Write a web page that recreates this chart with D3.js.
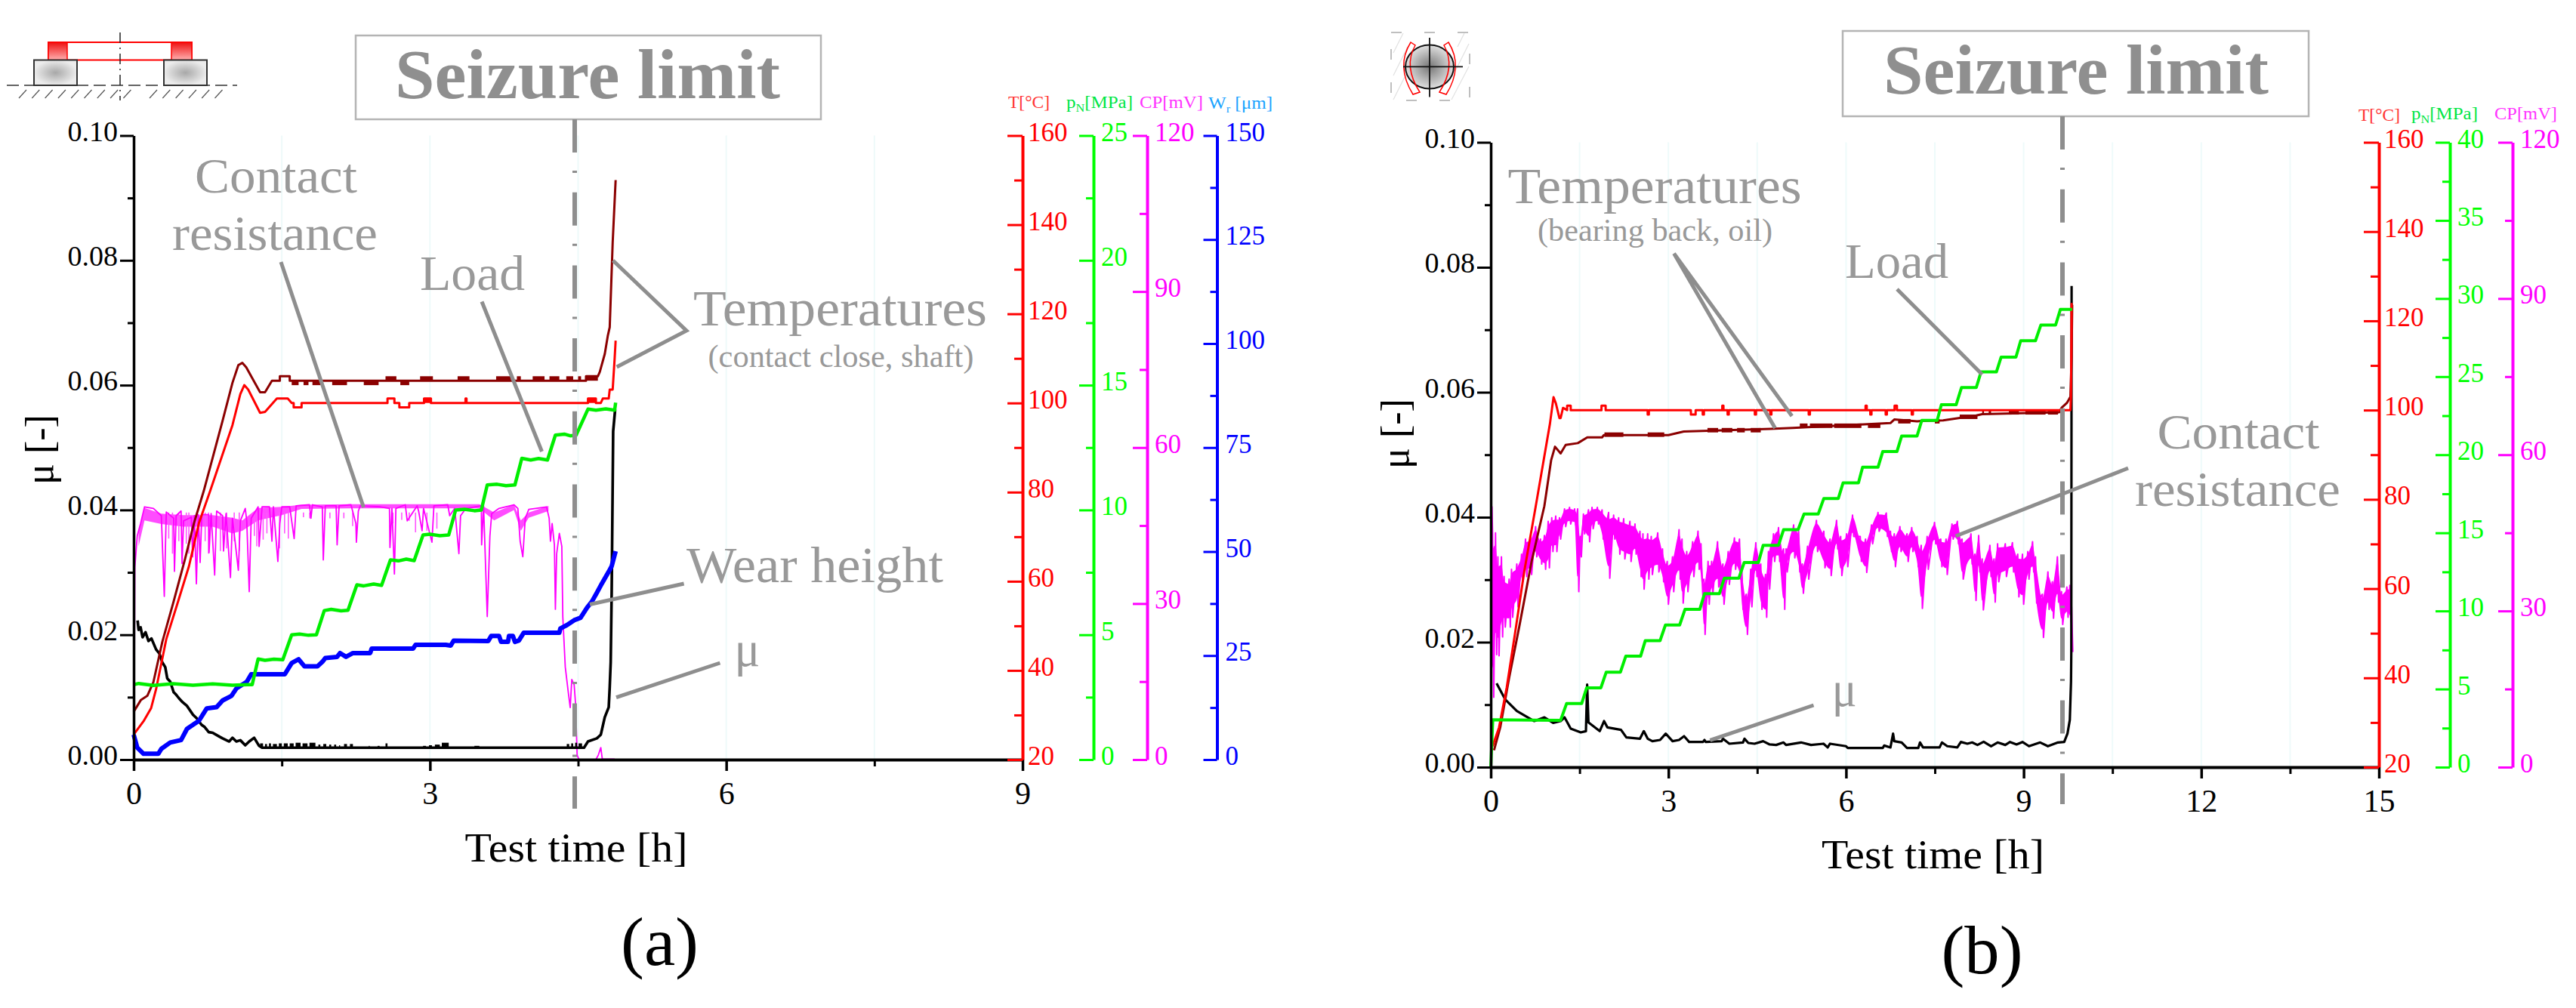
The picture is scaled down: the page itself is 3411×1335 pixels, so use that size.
<!DOCTYPE html>
<html><head><meta charset="utf-8">
<style>html,body{margin:0;padding:0;background:#fff}svg{display:block}text{font-family:"Liberation Serif",serif}</style>
<script src="https://cdn.jsdelivr.net/npm/d3@7/dist/d3.min.js"></script>
</head><body><svg id="c" width="3411" height="1335" xmlns="http://www.w3.org/2000/svg"></svg>
<script>
// ---------- panel (a) series: [time h, value] ----------
const aPn=[[0,3],[.05,3.05],[.2,2.97],[.4,3.04],[.6,2.98],[.8,3.03],[1.0,2.98],[1.15,3.0],[1.2,3.0],[1.26,4.03],[1.33,3.98],[1.42,4.02],[1.51,4.0],[1.6,5.0],[1.68,5.03],[1.77,4.98],[1.85,5.0],[1.93,5.97],[2.0,6.02],[2.1,5.96],[2.17,5.98],[2.26,7.0],[2.33,6.96],[2.43,7.03],[2.51,6.98],[2.6,8.0],[2.68,7.96],[2.76,8.03],[2.84,7.97],[2.93,9.0],[3.0,9.03],[3.1,8.97],[3.19,9.0],[3.26,10.0],[3.35,10.03],[3.45,9.97],[3.52,10.0],[3.58,11.0],[3.68,11.03],[3.77,10.97],[3.86,11.0],[3.93,12.07],[4.02,12.0],[4.1,12.06],[4.19,12.0],[4.27,13.0],[4.36,13.04],[4.42,12.97],[4.48,13.0],[4.6,14.04],[4.68,14.0],[4.78,14.05],[4.87,14.0],[4.88,14.3]];
const aTshaft=[[0,25.6],[.1,28.6],[.176,31.5],[.227,35.8],[.33,47],[.457,56],[.56,63.4],[.66,73],[.775,80.3],[1.0,95],[1.08,102],[1.12,104],[1.16,103],[1.28,97.8],[1.33,98],[1.45,101],[1.56,101],[1.6,100],[1.62,100],[1.62,99],[1.7,99],[1.7,100],[2.57,100],[2.57,101],[2.64,101],[2.64,100],[2.69,100],[2.69,99],[2.79,99],[2.79,100],[2.94,100],[2.94,101],[3.01,101],[3.01,100],[3.36,100],[3.36,101],[3.37,101],[3.37,100],[4.6,100],[4.6,101],[4.68,101],[4.68,100],[4.73,100],[4.75,101],[4.81,101],[4.82,103],[4.85,103],[4.87,110],[4.88,114]];
const aTclose=[[0,30.7],[.074,33.4],[.138,34.3],[.2,37.4],[.29,46.4],[.405,55.5],[.52,65],[.61,73],[.71,80.3],[.9,96],[1.0,104.5],[1.06,108.5],[1.1,109],[1.14,108],[1.28,102.4],[1.33,102.4],[1.40,105],[1.48,105],[1.48,106],[1.58,106],[1.58,105],[4.58,105],[4.58,106],[4.70,106],[4.72,107],[4.77,111],[4.80,115],[4.82,117],[4.85,136],[4.88,150]];
const aTcloseBlocks=[[1.6,1.67,104,105],[1.72,1.77,104,105],[1.81,1.89,104,105],[2.01,2.16,104,105],[2.33,2.48,104,105],[2.70,2.79,104,105],[2.55,2.66,105,106],[2.90,3.03,105,106],[3.28,3.40,105,106],[3.67,3.82,105,106],[3.88,3.92,105,106],[4.04,4.16,105,106],[4.21,4.31,105,106],[4.38,4.45,105,106],[4.5,4.53,105,106],[4.58,4.70,105,106]];
const aTshaftBlocks=[[2.94,3.01,100,101],[4.6,4.68,100,101]];
const aWear=[[0,6],[.036,2.9],[.1,1.4],[.25,1.4],[.28,2.6],[.37,4.1],[.48,4.7],[.54,7.4],[.66,9.3],[.74,12.3],[.84,12.6],[.90,14.2],[.99,15.3],[1.04,17.1],[1.145,18.7],[1.19,20.5],[1.53,20.5],[1.60,23.2],[1.67,24.1],[1.73,22.4],[1.86,22.4],[1.91,23.5],[1.94,24.4],[2.06,24.7],[2.09,25.6],[2.15,24.7],[2.22,25.6],[2.395,25.6],[2.41,26.7],[2.83,26.7],[2.855,27.6],[3.16,27.6],[3.21,27.4],[3.24,28.6],[3.59,28.5],[3.62,29.7],[3.70,29.7],[3.72,28.3],[3.79,28.3],[3.80,29.7],[3.84,29.7],[3.86,28.3],[3.90,28.6],[3.95,30.5],[4.31,30.5],[4.32,31.5],[4.385,32.3],[4.46,33.5],[4.525,34.1],[4.59,36.5],[4.64,38],[4.69,40.1],[4.74,42.3],[4.82,45.6],[4.84,46.5],[4.88,50.1]];
const aMu=[[.04,.0223],[.05,.0208],[.07,.0212],[.09,.0196],[.12,.0204],[.15,.0190],[.18,.0194],[.227,.01765],[.26,.0170],[.29,.0156],[.32,.0148],[.34,.0130],[.37,.0125],[.405,.0108],[.43,.0104],[.46,.0098],[.495,.0092],[.54,.0086],[.6,.0072],[.64,.0066],[.686,.0056],[.72,.0052],[.76,.0044],[.8,.0043],[.865,.0037],[.9,.0034],[.967,.0029],[1.0,.0035],[1.04,.0029],[1.08,.0031],[1.13,.0023],[1.17,.0029],[1.22,.0035],[1.27,.0022],[1.3,.0019],[4.56,.0019],[4.60,.0029],[4.69,.0034],[4.73,.004],[4.77,.0068],[4.81,.0084],[4.82,.0116],[4.83,.0156],[4.84,.027],[4.855,.0526],[4.875,.0561]];
const aMuBlocks=[[1.28,1.31,.0019,.0026],[1.33,1.35,.0019,.0025],[1.37,1.39,.0019,.0026],[1.41,1.45,.0019,.0025],[1.47,1.5,.0019,.0026],[1.52,1.56,.0019,.0026],[1.58,1.62,.0019,.0026],[1.64,1.69,.0019,.0027],[1.71,1.76,.0019,.0026],[1.78,1.84,.0019,.0027],[1.87,1.89,.0019,.0024],[1.92,1.95,.0019,.0025],[1.98,2.0,.0019,.0024],[2.03,2.05,.0019,.0024],[2.08,2.09,.0019,.0023],[2.13,2.16,.0019,.0025],[2.19,2.22,.0019,.0025],[2.38,2.39,.0019,.0022],[2.47,2.49,.0019,.0022],[2.55,2.57,.0019,.0026],[2.93,2.96,.0019,.0022],[2.99,3.02,.0019,.0023],[3.05,3.1,.0019,.0024],[3.12,3.19,.0019,.0027],[3.45,3.5,.0019,.0022],[4.385,4.41,.0019,.0025],[4.43,4.45,.0019,.0026],[4.47,4.49,.0019,.0027],[4.505,4.54,.0019,.0026]];
const aCp=[[0,0],[.003,30],[.006,4],[.009,24],[.012,37],[.036,43],[.07,45.4],[.11,48.6],[.2,48.3],[.28,46.9],[.31,31.4],[.33,47.6],[.405,46.4],[.413,36.2],[.43,46.9],[.48,47.8],[.49,37.7],[.505,45.9],[.584,46.6],[.597,39],[.615,46.9],[.635,33.8],[.655,47.1],[.673,37.9],[.69,47.1],[.76,47.1],[.763,39.8],[.784,47.3],[.82,35.5],[.84,47.8],[.9,46.9],[.91,40.1],[.935,47.3],[.98,35],[1.0,46.4],[1.06,36.4],[1.08,45.9],[1.13,48.3],[1.145,45.9],[1.17,32.3],[1.19,46.4],[1.26,48.6],[1.27,41],[1.3,48.6],[1.375,48.6],[1.40,42],[1.415,48.6],[1.46,38.1],[1.48,45.4],[1.5,48.6],[1.58,48.6],[1.625,42.5],[1.645,48.8],[1.78,49],[1.795,46.4],[1.81,49],[1.91,48.6],[1.92,38.4],[1.94,48.8],[2.05,48.8],[2.06,41.3],[2.08,48.8],[2.2,49],[2.25,45.4],[2.255,41.8],[2.275,47.8],[2.295,48.8],[2.5,48.6],[2.59,48.3],[2.595,40.8],[2.615,48.3],[2.64,35.7],[2.655,48.3],[2.75,49],[2.77,45.9],[2.87,48.8],[2.885,47.8],[2.92,44],[2.935,48.3],[3.02,41.8],[3.04,48.8],[3.18,49],[3.2,46.9],[3.25,48.3],[3.26,46.4],[3.293,39.6],[3.31,46.9],[3.365,48.3],[3.52,48.8],[3.523,41.3],[3.543,48.8],[3.58,27.5],[3.607,43],[3.625,47.3],[3.7,48.3],[3.85,49],[3.89,48.3],[3.913,42],[3.94,39],[3.965,46.4],[4.0,48.1],[4.18,48.6],[4.207,46.4],[4.22,42],[4.237,45.4],[4.26,41.3],[4.27,28.9],[4.283,39.6],[4.31,43.5],[4.335,41],[4.345,27.5],[4.37,17.8],[4.40,13],[4.42,10],[4.436,15.4],[4.46,14.4],[4.475,10.5],[4.49,.85],[4.51,0],[4.68,0],[4.705,.9],[4.73,2.3],[4.745,.1],[4.87,.1]];
const aCpBand=[[.05,44,41],[.11,48.4,46],[.28,47.3,45.3],[.5,47,44.8],[.8,47,44.8],[1.0,46.5,43.5],[1.1,46,44],[1.26,48.4,46],[1.5,48.6,47],[1.7,49,48.2],[2.2,49.1,48.3],[2.9,49.1,48.3],[3.5,49.1,48.3],[3.65,47.5,46],[3.85,49,48],[3.92,46,44],[4.0,47.5,46.5],[4.2,48.8,47.8]];
const aCpSpikes=[[.355,42.5],[.393,39.6],[.457,42],[.533,41.5],[.559,39.6],[.724,42],[.758,39.6],[.878,40.1],[.941,40.6],[1.018,42],[1.069,40.1],[1.222,43],[1.247,41],[1.311,42.3],[1.349,43.5],[1.477,40.6],[1.528,43.5],[1.566,42.5],[1.719,46.6],[1.783,46.4],[1.987,46.4],[2.128,46.4],[2.217,44.9],[2.625,45.4],[2.714,46.1],[2.79,45.9],[2.854,43.7],[2.969,44],[3.07,44.4]];

// ---------- panel (b) series ----------
const bPn=[[0,0],[.034,3.03],[1.18,3.0],[1.28,4.07],[1.535,4.07],[1.62,5.08],[1.86,5.08],[1.95,6.08],[2.19,6.08],[2.28,7.1],[2.53,7.1],[2.61,8.1],[2.86,8.1],[2.95,9.1],[3.19,9.1],[3.28,10.1],[3.53,10.1],[3.61,11.1],[3.86,11.1],[3.945,12.1],[4.19,12.1],[4.28,13.1],[4.52,13.1],[4.6,14.2],[4.86,14.2],[4.945,15.2],[5.19,15.2],[5.29,16.2],[5.53,16.2],[5.625,17.2],[5.87,17.2],[5.95,18.2],[6.21,18.2],[6.28,19.2],[6.54,19.2],[6.62,20.2],[6.86,20.2],[6.94,21.2],[7.2,21.2],[7.28,22.2],[7.54,22.2],[7.61,23.2],[7.86,23.2],[7.95,24.3],[8.2,24.3],[8.28,25.3],[8.54,25.3],[8.62,26.25],[8.87,26.25],[8.95,27.3],[9.2,27.3],[9.29,28.3],[9.54,28.3],[9.62,29.3],[9.82,29.3]];
const bToil=[[.03,24.7],[.14,28.9],[.27,37.9],[.42,50.9],[.565,63.8],[.76,78.5],[1.0,97],[1.06,102.9],[1.1,101.5],[1.16,98.2],[1.18,98.2],[1.22,100.5],[1.29,100],[1.29,101],[1.35,101],[1.35,100],[1.87,100],[1.87,101],[1.94,101],[1.94,100],[2.65,100],[2.65,99],[2.67,99],[2.67,100],[3.38,100],[3.38,99],[3.46,99],[3.46,100],[3.58,100],[3.58,99],[3.6,99],[3.6,100],[3.91,100],[3.91,101],[3.93,101],[3.93,100],[4.0,100],[4.0,99],[4.02,99],[4.02,100],[4.46,100],[4.46,99],[4.48,99],[4.48,100],[4.72,100],[4.72,99],[4.74,99],[4.74,100],[5.37,100],[5.37,99],[5.39,99],[5.39,100],[6.33,100],[6.33,101],[6.35,101],[6.35,100],[6.41,100],[6.41,99],[6.43,99],[6.43,100],[6.67,100],[6.67,99],[6.69,99],[6.69,100],[6.82,100],[6.82,101],[6.86,101],[6.86,100],[7.11,100],[7.11,99],[7.13,99],[7.13,100],[9.79,100],[9.80,103],[9.81,124]];
const bTback=[[.055,23.8],[.16,28.9],[.31,40],[.48,51.4],[.69,66.1],[.905,78.5],[1.02,88.8],[1.085,91.8],[1.18,90.3],[1.265,92.2],[1.47,92.6],[1.63,93.9],[1.88,93.9],[1.91,94.4],[3.0,94.4],[3.26,95.2],[4.72,95.8],[5.1,96],[6.75,97.1],[6.815,97.9],[7.2,97.5],[7.64,97.7],[7.9,98.2],[8.2,98.8],[8.3,99.1],[9.6,99.5],[9.64,100.5],[9.73,101.6],[9.79,103],[9.81,111.8],[9.82,123.6]];
const bTbackBlocks=[[1.92,2.24,94,95],[2.65,2.93,94,95],[3.66,3.84,95,96],[3.9,4.08,95,96],[4.16,4.29,95,96],[4.39,4.56,95,96],[5.22,5.35,96,97],[5.39,5.77,96,97],[5.8,6.26,96,97],[6.37,6.58,96,97],[6.88,7.09,97,98],[7.5,7.58,97,98],[7.92,8.22,98,99],[8.3,8.33,99,100],[8.41,8.45,99,100],[8.75,8.92,99,100],[9.03,9.37,99,100],[9.41,9.58,99,100]];
const bMu=[[.098,.01341],[.247,.01079],[.44,.00898],[.587,.00818],[.735,.00737],[.906,.00797],[1.054,.00709],[1.18,.00737],[1.246,.00797],[1.35,.00616],[1.52,.00556],[1.607,.00576],[1.628,.01321],[1.65,.00717],[1.84,.00576],[1.913,.00737],[1.97,.00636],[2.2,.00596],[2.29,.00475],[2.52,.00455],[2.585,.00576],[2.65,.00455],[2.73,.00415],[2.86,.00435],[2.955,.00536],[3.07,.00415],[3.18,.00435],[3.265,.00495],[3.35,.00403],[3.585,.00403],[3.61,.00435],[3.63,.00403],[3.9,.00415],[3.92,.00455],[4.03,.00375],[4.26,.00395],[4.285,.00455],[4.35,.00387],[4.455,.00375],[4.6,.00415],[4.71,.00363],[4.82,.00355],[4.945,.00395],[4.987,.00355],[5.24,.00395],[5.41,.00355],[5.62,.00375],[5.69,.00315],[5.73,.00375],[6.0,.00335],[6.03,.00306],[6.62,.00306],[6.645,.00346],[6.75,.00315],[6.795,.00536],[6.815,.00415],[6.94,.00395],[7.03,.00306],[7.22,.00306],[7.25,.00395],[7.3,.00315],[7.58,.00315],[7.62,.00395],[7.71,.00335],[7.88,.00315],[7.94,.00403],[8.05,.00375],[8.13,.00395],[8.22,.00355],[8.325,.00407],[8.45,.00335],[8.56,.00395],[8.69,.00355],[8.77,.00403],[8.88,.00363],[8.98,.00403],[9.09,.00335],[9.28,.00395],[9.41,.00335],[9.58,.00395],[9.685,.00403],[9.74,.00536],[9.78,.00757],[9.80,.01361],[9.805,.01844],[9.81,.077]];
const bCp=[[.0,0,50],[.03,44.8,13.4],[.08,45,21.6],[.12,40.4,21.4],[.18,40.4,25],[.225,36.6,26.9],[.31,36.1,26.9],[.35,38,28.8],[.44,39,30.8],[.52,40.9,35.6],[.587,43.8,36.6],[.67,44.3,37],[.757,46.2,40.4],[.84,43.8,39],[.906,44.5,38],[.97,47.2,38.3],[1.03,47.9,41.4],[1.097,48.2,41.4],[1.16,47.9,43.8],[1.246,49.6,46.2],[1.33,49.9,46.7],[1.416,49.6,46.5],[1.467,49.6,33.7],[1.51,44.3,40.4],[1.565,48.6,44.8],[1.65,49.4,43.3],[1.71,49.9,45.8],[1.8,49.9,46.7],[1.88,49.4,43.8],[1.99,48.9,36.3],[2.075,48.4,43.8],[2.16,47.9,40.9],[2.245,47.7,40],[2.35,47.2,39.5],[2.436,46.7,40.9],[2.52,45.3,36.6],[2.57,44.8,34.2],[2.65,44.8,36.1],[2.71,44.3,37],[2.82,45,37.5],[2.90,41.9,35.6],[2.98,39.5,31.3],[3.07,40.4,33.7],[3.18,45.6,36.1],[3.23,43.8,31.5],[3.31,41.4,33.7],[3.41,43.3,36.6],[3.5,45.3,38],[3.55,42.9,35.6],[3.6,36.1,25.5],[3.67,39.5,31.3],[3.73,39.5,33.2],[3.83,43.3,34.6],[3.92,39,31.3],[4.01,41.4,35.1],[4.115,44,38],[4.2,43.8,36.1],[4.24,38.5,30.3],[4.315,33.2,25.5],[4.39,38,30.8],[4.476,43.1,36.6],[4.56,39,30.3],[4.64,37,28.8],[4.69,41.4,34.2],[4.775,44.8,39.5],[4.86,46,39.5],[4.945,41.9,30.3],[4.987,41.9,37.5],[5.115,46.5,40.2],[5.2,45.3,37.5],[5.26,39,33.4],[5.35,42.4,36.1],[5.5,47.4,41.4],[5.625,45.3,38.3],[5.73,43.8,36.8],[5.84,47.4,41.9],[5.91,44.3,36.8],[6.01,44.8,38.5],[6.11,48.4,44.3],[6.24,44.3,39.5],[6.33,43.8,37.4],[6.43,46.5,42.9],[6.54,48.9,45.3],[6.68,48.8,44.3],[6.75,45.3,41.4],[6.815,44.8,38.5],[6.91,46.2,41.4],[7.03,44.8,39.5],[7.11,46,41.4],[7.2,44.3,38.5],[7.27,42.6,30.5],[7.37,44.3,38],[7.495,47,42.9],[7.6,43.8,38.5],[7.69,43.8,37],[7.79,46.7,43.8],[7.88,47.2,42.9],[7.96,43.8,36.1],[8.11,44.8,39],[8.176,40.9,32],[8.24,44.5,37.5],[8.3,40,30.2],[8.43,42.6,36.6],[8.5,40,31.7],[8.56,42.9,35.6],[8.69,42.9,36.6],[8.81,43.1,37.5],[8.9,40.9,32.7],[8.98,40.9,31.3],[9.07,41.4,36.1],[9.15,43.3,37.5],[9.2,40.4,31.5],[9.315,33.2,24.9],[9.41,37.5,30.3],[9.485,35.6,28.6],[9.57,40.4,31.7],[9.64,33.7,27.4],[9.73,34.6,28.8],[9.78,34.9,27.9],[9.81,30.8,22.1]];

// ---------- axis tick values ----------
const muMajor=[0,.02,.04,.06,.08,.10], muMinor=[.01,.03,.05,.07,.09];
const tMajor=[20,40,60,80,100,120,140,160], tMinor=[30,50,70,90,110,130,150];
const cpMajor=[0,30,60,90,120], cpMinor=[15,45,75,105];
const aPnMajor=[0,5,10,15,20,25], aPnMinor=[2.5,7.5,12.5,17.5,22.5];
const bPnMajor=[0,5,10,15,20,25,30,35,40], bPnMinor=[2.5,7.5,12.5,17.5,22.5,27.5,32.5,37.5];
const wMajor=[0,25,50,75,100,125,150], wMinor=[12.5,37.5,62.5,87.5,112.5,137.5];
const aTimeMajor=[0,3,6,9], aTimeMinor=[1.5,4.5,7.5];
const bTimeMajor=[0,3,6,9,12,15], bTimeMinor=[1.5,4.5,7.5,10.5,13.5];

const RED="#ff0000",DRED="#8b0000",GRN="#00ee00",MAG="#ff00ff",BLU="#0000ff",GRY="#999999",LNG="#8e8e8e";
const svg=d3.select("#c");
const defs=svg.append("defs");
const gg=defs.append("radialGradient").attr("id","gG");gg.append("stop").attr("offset","0").attr("stop-color","#a8a8a8");gg.append("stop").attr("offset","1").attr("stop-color","#ececec");
const gc=defs.append("radialGradient").attr("id","gC");gc.append("stop").attr("offset","0").attr("stop-color","#777");gc.append("stop").attr("offset","1").attr("stop-color","#e0e0e0");
const gr=defs.append("linearGradient").attr("id","gR").attr("x1",0).attr("x2",0).attr("y1",0).attr("y2",1);gr.append("stop").attr("offset","0").attr("stop-color","#ee1111");gr.append("stop").attr("offset","1").attr("stop-color","#ffb0b0");

function yAxisColored(g,scale,x,major,minor,color,lenMajor,lenMinor,labelDx,sw){
  const a=g.append("g").attr("transform",`translate(${x},0)`);
  const A=d3.axisLeft(scale).tickValues(major).tickSize(lenMajor).tickSizeOuter(0).tickFormat(d3.format("d"));
  a.call(A);
  a.select(".domain").attr("stroke",color).attr("stroke-width",sw);
  a.selectAll(".tick line").attr("stroke",color).attr("stroke-width",3);
  a.selectAll(".tick text").attr("x",labelDx).attr("y",-5).attr("dy",".33em").attr("text-anchor","start").attr("fill",color).attr("font-size",35);
  const b=g.append("g").attr("transform",`translate(${x},0)`);
  b.call(d3.axisLeft(scale).tickValues(minor).tickSize(lenMinor).tickSizeOuter(0).tickFormat(""));
  b.select(".domain").remove();
  b.selectAll(".tick line").attr("stroke",color).attr("stroke-width",3);
}
function text(g,s,x,y,len,size,fill,extra){
  const t=g.append("text").attr("x",x).attr("y",y).attr("font-size",size).attr("fill",fill).text(s);
  if(len)t.attr("textLength",len).attr("lengthAdjust","spacingAndGlyphs");
  if(extra)extra(t);return t;
}
function seg(g,pts,w){g.append("path").attr("d",d3.line()(pts)).attr("fill","none").attr("stroke",LNG).attr("stroke-width",w||5);}

function panel(c){
  const g=svg.append("g");
  const x=d3.scaleLinear().domain([0,c.tMax]).range([c.x0,c.x1]);
  const y0=c.y0,y1=c.y1;
  const yMu=d3.scaleLinear().domain([0,.1]).range([y0,y1]);
  const yT=d3.scaleLinear().domain([20,160]).range([y0,y1]);
  const yP=d3.scaleLinear().domain([0,c.pMax]).range([y0,y1]);
  const yC=d3.scaleLinear().domain([0,120]).range([y0,y1]);
  const yW=d3.scaleLinear().domain([0,150]).range([y0,y1]);
  g.selectAll(".gl").data(c.tMajor.concat(c.tMinor).filter(d=>d>0&&d<c.tMax)).enter().append("line")
    .attr("x1",x).attr("x2",x).attr("y1",y1).attr("y2",y0).attr("stroke","#eefafa").attr("stroke-width",2);
  const line=(sc)=>d3.line().x(d=>x(d[0])).y(d=>sc(d[1]));
  const draw=(data,sc,col,w)=>g.append("path").attr("d",line(sc)(data)).attr("fill","none").attr("stroke",col).attr("stroke-width",w).attr("stroke-linejoin","round");
  const blocks=(data,sc,col)=>g.append("g").selectAll("rect").data(data).enter().append("rect")
    .attr("x",d=>x(d[0])).attr("width",d=>x(d[1])-x(d[0])).attr("y",d=>sc(d[3])).attr("height",d=>sc(d[2])-sc(d[3])).attr("fill",col);
  c.series({g,x,yMu,yT,yP,yC,yW,draw,blocks,line});
  const ya=g.append("g").attr("transform",`translate(${c.x0},0)`);
  ya.call(d3.axisLeft(yMu).tickValues(muMajor).tickSize(18).tickSizeOuter(0).tickPadding(3).tickFormat(d3.format(".2f")));
  ya.select(".domain").attr("stroke","#000").attr("stroke-width",3.5);
  ya.selectAll(".tick line").attr("stroke","#000").attr("stroke-width",3);
  ya.selectAll(".tick text").attr("y",-6).attr("dy",".33em").attr("font-size",38).attr("fill","#000");
  const yb=g.append("g").attr("transform",`translate(${c.x0},0)`);
  yb.call(d3.axisLeft(yMu).tickValues(muMinor).tickSize(8).tickSizeOuter(0).tickFormat(""));
  yb.select(".domain").remove();yb.selectAll(".tick line").attr("stroke","#000").attr("stroke-width",3);
  const xa=g.append("g").attr("transform",`translate(0,${y0})`);
  xa.call(d3.axisBottom(x).tickValues(c.tMajor).tickSize(15).tickSizeOuter(0).tickFormat(d3.format("d")));
  xa.select(".domain").attr("stroke","#000").attr("stroke-width",4);
  xa.selectAll(".tick line").attr("stroke","#000").attr("stroke-width",3.5);
  xa.selectAll(".tick text").attr("y",59).attr("dy",0).attr("font-size",42).attr("fill","#000");
  const xb=g.append("g").attr("transform",`translate(0,${y0})`);
  xb.call(d3.axisBottom(x).tickValues(c.tMinor).tickSize(9).tickSizeOuter(0).tickFormat(""));
  xb.select(".domain").remove();xb.selectAll(".tick line").attr("stroke","#000").attr("stroke-width",3);
  yAxisColored(g,yT,c.x1,tMajor,tMinor,RED,20,11,7,4);
  yAxisColored(g,yP,c.xP,c.pMajor,c.pMinor,"#00ff00",19,10,10,4);
  yAxisColored(g,yC,c.xC,cpMajor,cpMinor,MAG,19,10,10,4);
  if(c.xW)yAxisColored(g,yW,c.xW,wMajor,wMinor,BLU,18,9,11,4);
  g.append("rect").attr("x",c.box[0]).attr("y",c.box[1]).attr("width",c.box[2]-c.box[0]).attr("height",c.box[3]-c.box[1]).attr("fill","none").attr("stroke","#b4b4b4").attr("stroke-width",2.5);
  text(g,"Seizure limit",c.sz[0],c.sz[1],510,94,"#8f8f8f",t=>t.attr("font-weight","bold"));
  g.append("line").attr("x1",c.sx).attr("x2",c.sx).attr("y1",c.box[3]).attr("y2",c.sEnd).attr("stroke",LNG).attr("stroke-width",6).attr("stroke-dasharray","44 24 3 25.7");
  text(g,"Test time [h]",c.xl[0],c.xl[1],295,54,"#000");
  g.append("text").attr("transform",`translate(${c.yl[0]},${c.yl[1]}) rotate(-90)`).attr("font-size",52).attr("fill","#000").text("μ [-]");
  text(g,c.tag,c.tagp[0],c.tagp[1],c.tagp[2],92,"#000");
  return g;
}
function sub(g,x,y,col,a,b,c2,len){
  const t=g.append("text").attr("x",x).attr("y",y).attr("font-size",23).attr("fill",col).attr("textLength",len).attr("lengthAdjust","spacingAndGlyphs");
  t.append("tspan").text(a);t.append("tspan").attr("dy",5).attr("font-size",15).text(b);t.append("tspan").attr("dy",-5).text(c2);
}

// ---- panel a ----
const pa=panel({tMax:9,x0:177,x1:1354,y0:1006,y1:179.5,pMax:25,xP:1448,xC:1519,xW:1611.5,pMajor:aPnMajor,pMinor:aPnMinor,tMajor:aTimeMajor,tMinor:aTimeMinor,
  box:[471,47,1087,158],sz:[523,129.5],sx:761,sEnd:1071,xl:[615.5,1141],yl:[70,642],tag:"(a)",tagp:[822,1278,103],
  series(s){
    s.g.append("path").attr("d",d3.area().x(d=>s.x(d[0])).y0(d=>s.yC(d[2])).y1(d=>s.yC(d[1]))(aCpBand)).attr("fill",MAG).attr("fill-opacity",.7);
    s.g.append("g").selectAll("line").data(aCpSpikes).enter().append("line").attr("x1",d=>s.x(d[0])).attr("x2",d=>s.x(d[0])).attr("y1",s.yC(47.5)).attr("y2",d=>s.yC(d[1])).attr("stroke","#ff55ff").attr("stroke-width",1.6);
    s.draw(aCp,s.yC,MAG,1.8);
    s.draw(aMu,s.yMu,"#000",3.6);s.blocks(aMuBlocks,s.yMu,"#000");
    s.draw(aTclose,s.yT,DRED,3);s.blocks(aTcloseBlocks,s.yT,DRED);
    s.draw(aTshaft,s.yT,RED,3);s.blocks(aTshaftBlocks,s.yT,RED);
    s.draw(aWear,s.yW,BLU,6);
    s.draw(aPn,s.yP,GRN,4.5);
  }});
text(pa,"Contact",258,255,215,66,GRY);text(pa,"resistance",228,331,272,66,GRY);text(pa,"Load",556,384,139,66,GRY);
text(pa,"Temperatures",918,431,389,68,GRY);text(pa,"(contact close, shaft)",937.5,485.5,352,42,GRY);
text(pa,"Wear height",909,771,340,68,GRY);text(pa,"μ",972.6,881.6,34,66,GRY);
seg(pa,[[372,347],[481.5,672]]);seg(pa,[[638,399.5],[717.5,598]]);seg(pa,[[811.7,345],[909,438],[816.7,486]]);seg(pa,[[905.6,773],[781,800.5]]);seg(pa,[[953.4,878],[816,923.7]]);
text(pa,"T[°C]",1335,143,55,23,"#ff3333");
sub(pa,1412,143,"#00e644","p","N","[MPa]",88);
text(pa,"CP[mV]",1509,143,84,23,"#ff33ff");
sub(pa,1600,144,"#1aa3ff","W","r"," [μm]",85);

// ---- panel b ----
const bZig=bCp.flatMap(d=>[[d[0],d[1]],[d[0]+.02,d[2]]]);
const pb=panel({tMax:15,x0:1974,x1:3150,y0:1016,y1:188.5,pMax:40,xP:3244,xC:3327,pMajor:bPnMajor,pMinor:bPnMinor,tMajor:bTimeMajor,tMinor:bTimeMinor,
  box:[2440,41,3057,154],sz:[2494,124],sx:2731,sEnd:1065,xl:[2412,1150],yl:[1865,621],tag:"(b)",tagp:[2570.5,1289,108],
  series(s){
    s.g.append("path").attr("d",d3.area().curve(d3.curveMonotoneX).x(d=>s.x(d[0])).y0(d=>s.yC(d[2]+(d[1]-d[2])*.18)).y1(d=>s.yC(d[1]-(d[1]-d[2])*.1))(bCp)).attr("fill",MAG);
    s.draw(bZig,s.yC,MAG,2);
    s.draw(bMu,s.yMu,"#000",3.2);
    s.draw(bTback,s.yT,DRED,3);s.blocks(bTbackBlocks,s.yT,DRED);
    s.draw(bToil,s.yT,RED,3);
    s.draw(bPn,s.yP,GRN,4);
  }});
text(pb,"Temperatures",1996.6,269,389,68,GRY);text(pb,"(bearing back, oil)",2036,319,311,42,GRY);
text(pb,"Load",2443,368,137,66,GRY);text(pb,"Contact",2856.5,594,215,66,GRY);text(pb,"resistance",2827,670,272,66,GRY);
text(pb,"μ",2425.8,935,33,66,GRY);
seg(pb,[[2350.5,567],[2216.6,335.7],[2372.8,551]]);seg(pb,[[2512,383],[2624.7,496]]);seg(pb,[[2818,620],[2589.7,710]]);seg(pb,[[2401.5,934],[2264.4,980.4]]);
text(pb,"T[°C]",3123,160,55,23,"#ff3333");
sub(pb,3193,158,"#00e644","p","N","[MPa]",88);
text(pb,"CP[mV]",3303,158,83,23,"#ff33ff");

// ---- schematic icons ----
const ic=svg.append("g");
ic.append("rect").attr("x",64).attr("y",56).attr("width",190).attr("height",23.5).attr("fill","none").attr("stroke",RED).attr("stroke-width",2);
[[64,25],[227,27]].forEach(d=>ic.append("rect").attr("x",d[0]).attr("y",56).attr("width",d[1]).attr("height",23.5).attr("fill","url(#gR)").attr("stroke",RED).attr("stroke-width",1.5));
[[45,57],[217,57]].forEach(d=>ic.append("rect").attr("x",d[0]).attr("y",79.5).attr("width",d[1]).attr("height",33.5).attr("fill","url(#gG)").attr("stroke","#333").attr("stroke-width",2));
ic.append("line").attr("x1",9).attr("x2",314).attr("y1",113).attr("y2",113).attr("stroke","#333").attr("stroke-width",1.5).attr("stroke-dasharray","16 7");
ic.append("line").attr("x1",159).attr("x2",159).attr("y1",43).attr("y2",133).attr("stroke","#222").attr("stroke-width",1.5).attr("stroke-dasharray","14 6 2 6");
d3.range(16).forEach(i=>{const hx=25+i*17.3;if(i===9)return;ic.append("line").attr("x1",hx).attr("x2",hx+10).attr("y1",130).attr("y2",119).attr("stroke","#555").attr("stroke-width",1.2);});
[[1845,132,1866,90],[1845,100,1864,62],[1845,70,1858,44],[1922,132,1945,88],[1928,92,1945,58],[1930,62,1939,44]].forEach(d=>ic.append("line").attr("x1",d[0]).attr("y1",d[1]).attr("x2",d[2]).attr("y2",d[3]).attr("stroke","#e2e2e2").attr("stroke-width",1.2));
ic.append("rect").attr("x",1842).attr("y",43).attr("width",104).attr("height",90).attr("fill","none").attr("stroke","#aaa").attr("stroke-width",1.5).attr("stroke-dasharray","14 30");
ic.append("ellipse").attr("cx",1893).attr("cy",88.4).attr("rx",32).attr("ry",29).attr("fill","url(#gC)").attr("stroke","#111").attr("stroke-width",2);
ic.append("path").attr("d","M1868,56 Q1848,88 1871,125 L1880,122 Q1858,88 1874,60 Z M1918,56 Q1938,88 1915,125 L1906,122 Q1928,88 1912,60 Z").attr("fill","none").attr("stroke",RED).attr("stroke-width",1.5);
ic.append("path").attr("d","M1858,88.4H1937M1893,50V128.5").attr("stroke","#111").attr("stroke-width",1.8);
</script></body></html>
